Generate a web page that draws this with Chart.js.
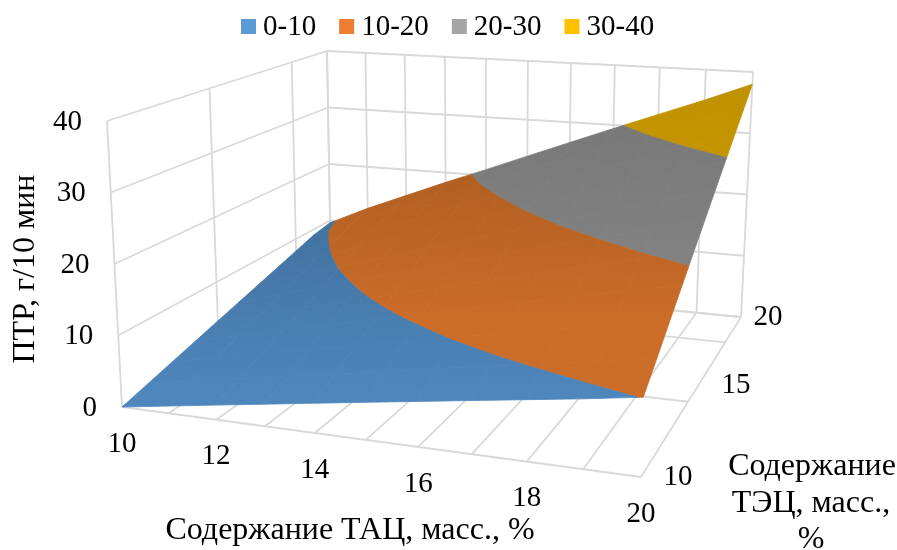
<!DOCTYPE html>
<html>
<head>
<meta charset="utf-8">
<title>ПТР</title>
<script src="https://cdn.jsdelivr.net/npm/chart.js@4"></script>
<style>
html, body { margin: 0; padding: 0; background: #fff; }
canvas { display: block; }
</style>
</head>
<body>
<canvas id="surfaceChart" width="897" height="550"></canvas>
<script>
// values
const tacValues = [10, 11, 12, 13, 14, 15, 16, 17, 18, 19, 20];
const tecValues = [10, 11, 12, 13, 14, 15, 16, 17, 18, 19, 20];
const ptrTec10 = [0, 1, 2, 3, 4, 5, 6, 7, 8, 9, 10.1];
const ptrTec11 = [1, 2.2, 3.4, 4.5, 5.7, 6.9, 8.1, 9.3, 10.4, 11.6, 12.8];
const ptrTec12 = [2, 3.4, 4.7, 6.1, 7.4, 8.8, 10.2, 11.5, 12.9, 14.2, 15.6];
const ptrTec13 = [3, 4.5, 6.1, 7.6, 9.2, 10.7, 12.2, 13.8, 15.3, 16.9, 18.4];
const ptrTec14 = [4, 5.7, 7.4, 9.2, 10.9, 12.6, 14.3, 16, 17.8, 19.5, 21.2];
const ptrTec15 = [5, 6.9, 8.8, 10.7, 12.6, 14.5, 16.4, 18.3, 20.2, 22.1, 24];
const ptrTec16 = [6, 8.1, 10.2, 12.2, 14.3, 16.4, 18.5, 20.6, 22.6, 24.7, 26.8];
const ptrTec17 = [7, 9.3, 11.5, 13.8, 16, 18.3, 20.6, 22.8, 25.1, 27.3, 29.6];
const ptrTec18 = [8, 10.4, 12.9, 15.3, 17.8, 20.2, 22.6, 25.1, 27.5, 30, 32.4];
const ptrTec19 = [9, 11.6, 14.2, 16.9, 19.5, 22.1, 24.7, 27.3, 30, 32.6, 35.2];
const ptrTec20 = [9.6, 12.7, 15.5, 18.3, 21, 23.8, 26.6, 29.4, 32.2, 35, 38];

const bandNames = ['0-10', '10-20', '20-30', '30-40'];
const bandLow = [0, 10, 20, 30];
const bandHigh = [10, 20, 30, 40];
const bandColors = ['#5B9BD5', '#ED7D31', '#A5A5A5', '#FFC000'];
// surface colours are darker than the legend, far end -> near end
const bandFar = ['#3F6F9B', '#A95C20', '#757575', '#BB8D00'];
const bandNear = ['#4F87BD', '#CB6C29', '#818181', '#C69700'];

// axis ticks and grid
const tacTickLabels = [10, 12, 14, 16, 18, 20];
const tecTickLabels = [10, 15, 20];
const ptrTickLabels = [0, 10, 20, 30, 40];
const tacGrid = [10, 11, 12, 13, 14, 15, 16, 17, 18, 19, 20];
const tecGrid = [10, 14, 18, 20];

const ptrRows = [ptrTec10, ptrTec11, ptrTec12, ptrTec13, ptrTec14, ptrTec15, ptrTec16, ptrTec17, ptrTec18, ptrTec19, ptrTec20];

const TICK_FONT = '29px "Liberation Serif"';
const TITLE_FONT = '32px "Liberation Serif"';
const GRID_COLOR = '#D9D9D9';

// corners of the 3d box on the page: front left, front right, back right, back left
const floorCorners = [[122, 407], [641, 477], [741, 317], [331, 277]];
const topCorners = [[107, 121], [650, 161], [753, 72], [327, 51]];

// unit square -> quad
function makeHomography(q) {
    let dx1 = q[1][0] - q[2][0], dx2 = q[3][0] - q[2][0], sx = q[0][0] - q[1][0] + q[2][0] - q[3][0];
    let dy1 = q[1][1] - q[2][1], dy2 = q[3][1] - q[2][1], sy = q[0][1] - q[1][1] + q[2][1] - q[3][1];
    let det = dx1 * dy2 - dx2 * dy1;
    let g = (sx * dy2 - dx2 * sy) / det;
    let h = (dx1 * sy - sx * dy1) / det;
    return function (u, v) {
        let w = g * u + h * v + 1;
        return [
            ((q[1][0] - q[0][0] + g * q[1][0]) * u + (q[3][0] - q[0][0] + h * q[3][0]) * v + q[0][0]) / w,
            ((q[1][1] - q[0][1] + g * q[1][1]) * u + (q[3][1] - q[0][1] + h * q[3][1]) * v + q[0][1]) / w
        ];
    };
}
const floorMap = makeHomography(floorCorners);
const topMap = makeHomography(topCorners);

function project(tac, tec, ptr) {
    let u = (tac - 10) / 10, v = (tec - 10) / 10;
    let a = floorMap(u, v), b = topMap(u, v), t = ptr / 40;
    return { x: a[0] + (b[0] - a[0]) * t, y: a[1] + (b[1] - a[1]) * t };
}

// cut a polygon of [tac, tec, ptr] points with a ptr level
function clipLevel(poly, level, keepAbove) {
    let out = [];
    for (let i = 0; i < poly.length; i++) {
        let p = poly[i], q = poly[(i + 1) % poly.length];
        let pIn = keepAbove ? p[2] >= level : p[2] <= level;
        let qIn = keepAbove ? q[2] >= level : q[2] <= level;
        if (pIn) out.push(p);
        if (pIn != qIn) {
            let t = (level - p[2]) / (q[2] - p[2]);
            out.push([p[0] + (q[0] - p[0]) * t, p[1] + (q[1] - p[1]) * t, level]);
        }
    }
    return out;
}

function gridLine(a, b) {
    return {
        type: 'scatter',
        data: [project(a[0], a[1], a[2]), project(b[0], b[1], b[2])],
        showLine: true,
        borderColor: GRID_COLOR,
        borderWidth: 1.8,
        pointRadius: 0,
        fill: false,
        order: 10
    };
}

const chartCanvas = document.getElementById('surfaceChart');
const canvasCtx = chartCanvas.getContext('2d');

// one vertical gradient per band, so the cells join without steps
function bandGradient(b) {
    let far = project(15, 20, bandHigh[b]).y - 40;
    let near = project(20, 10, bandLow[b] + 10).y;
    if (b > 0) near = project(20, 15, bandLow[b]).y;
    let g = canvasCtx.createLinearGradient(0, far, 0, near);
    g.addColorStop(0, bandFar[b]);
    g.addColorStop(1, bandNear[b]);
    return g;
}

let datasets = [];

// floor and the two walls
for (let tac of tacGrid) {
    datasets.push(gridLine([tac, 10, 0], [tac, 20, 0]));
    datasets.push(gridLine([tac, 20, 0], [tac, 20, 40]));
}
for (let tec of tecGrid) {
    datasets.push(gridLine([10, tec, 0], [20, tec, 0]));
    datasets.push(gridLine([10, tec, 0], [10, tec, 40]));
}
for (let ptr of ptrTickLabels) {
    datasets.push(gridLine([10, 10, ptr], [10, 20, ptr]));
    datasets.push(gridLine([10, 20, ptr], [20, 20, ptr]));
}

// surface, one polygon per grid cell and colour band
for (let b = 0; b < bandNames.length; b++) {
    let col = bandGradient(b);
    for (let r = 0; r < tecValues.length - 1; r++) {
        for (let c = 0; c < tacValues.length - 1; c++) {
            let cell = [
                [tacValues[c], tecValues[r], ptrRows[r][c]],
                [tacValues[c + 1], tecValues[r], ptrRows[r][c + 1]],
                [tacValues[c + 1], tecValues[r + 1], ptrRows[r + 1][c + 1]],
                [tacValues[c], tecValues[r + 1], ptrRows[r + 1][c]]
            ];
            let poly = clipLevel(clipLevel(cell, bandLow[b], true), bandHigh[b], false);
            if (poly.length < 3) continue;
            let pts = poly.map(p => project(p[0], p[1], p[2]));
            pts.push(pts[0]);
            datasets.push({
                type: 'scatter',
                data: pts,
                showLine: true,
                borderColor: col,
                backgroundColor: col,
                borderWidth: 0.8,
                pointRadius: 0,
                fill: 'shape',
                order: 1
            });
        }
    }
}

// ticks, titles and legend go on top of the chart area
const labelsPlugin = {
    id: 'labelsPlugin',
    afterDatasetsDraw(chart) {
        let ctx = chart.ctx;
        ctx.save();
        ctx.fillStyle = '#000';
        ctx.font = TICK_FONT;
        ctx.textBaseline = 'middle';

        ctx.textAlign = 'right';
        for (let ptr of ptrTickLabels) {
            let p = project(10, 10, ptr);
            ctx.fillText(String(ptr), p.x - 25, p.y + 1);
        }

        ctx.textAlign = 'center';
        for (let tac of tacTickLabels) {
            let p = project(tac, 10, 0);
            ctx.fillText(String(tac), p.x, p.y + 37);
        }
        let tecOffset = [37, 38, 27];
        tecTickLabels.forEach(function (tec, i) {
            let p = project(20, tec, 0);
            ctx.fillText(String(tec), p.x + tecOffset[i], p.y);
        });

        // axis titles
        ctx.font = TITLE_FONT;
        ctx.fillText('Содержание ТАЦ, масс., %', 350, 531);
        ctx.fillText('Содержание', 812, 467);
        ctx.fillText('ТЭЦ, масс.,', 811, 504);
        ctx.fillText('%', 811, 540);
        ctx.save();
        ctx.translate(26, 269);
        ctx.rotate(-Math.PI / 2);
        ctx.fillText('ПТР, г/10 мин', 0, 0);
        ctx.restore();

        // legend
        ctx.font = TICK_FONT;
        ctx.textAlign = 'left';
        let x = 241;
        bandNames.forEach(function (name, i) {
            ctx.fillStyle = bandColors[i];
            ctx.fillRect(x, 19, 15, 15);
            ctx.fillStyle = '#000';
            ctx.fillText(name, x + 22, 27);
            x += 22 + ctx.measureText(name).width + 23;
        });
        ctx.restore();
    }
};

new Chart(chartCanvas, {
    type: 'scatter',
    data: { datasets: datasets },
    plugins: [labelsPlugin],
    options: {
        responsive: false,
        animation: false,
        layout: { padding: 0 },
        plugins: {
            legend: { display: false },
            tooltip: { enabled: false },
            title: { display: false }
        },
        scales: {
            x: { type: 'linear', min: 0, max: 897, display: false },
            y: { type: 'linear', min: 0, max: 550, reverse: true, display: false }
        }
    }
});
</script>
</body>
</html>
